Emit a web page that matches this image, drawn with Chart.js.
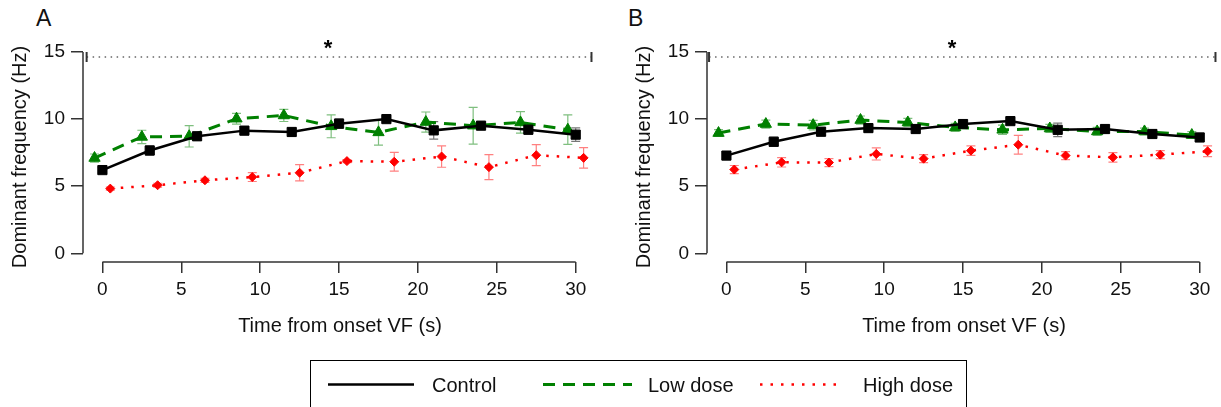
<!DOCTYPE html>
<html>
<head>
<meta charset="utf-8">
<script src="https://cdn.jsdelivr.net/npm/chart.js@4.4.1/dist/chart.umd.min.js"></script>
<style>
    body { margin: 0; background: #fff; width: 1221px; height: 407px; overflow: hidden; position: relative;
           font-family: "Liberation Sans", Arial, sans-serif; color: #111; }
    .panel { position: absolute; top: 0; width: 597px; height: 340px; }
    .letter { position: absolute; top: 7px; font-size: 23px; line-height: 23px; }
    #legendBox { position: absolute; left: 310px; top: 360px; width: 655px; height: 60px;
                 border: 1px solid #000; border-bottom: none; }
    .legendText { position: absolute; top: 375px; font-size: 20px; line-height: 20px; white-space: nowrap; }
    #legendLines { position: absolute; left: 0; top: 0; }
</style>
</head>
<body>
<div class="letter" style="left:36px">A</div>
<div class="letter" style="left:628px">B</div>
<canvas id="graficoA" class="panel" style="left:0" width="597" height="340"></canvas>
<canvas id="graficoB" class="panel" style="left:624px" width="597" height="340"></canvas>

<div id="legendBox"></div>
<svg id="legendLines" width="1221" height="407">
    <line x1="328" y1="384.5" x2="414" y2="384.5" stroke="#000" stroke-width="2.5"/>
    <line x1="543" y1="384.5" x2="632" y2="384.5" stroke="#008000" stroke-width="3" stroke-dasharray="12 8"/>
    <line x1="760" y1="384.5" x2="838" y2="384.5" stroke="#ff0000" stroke-width="2.5" stroke-dasharray="2.5 8"/>
</svg>
<span class="legendText" style="left:432px">Control</span>
<span class="legendText" style="left:648px">Low dose</span>
<span class="legendText" style="left:863px">High dose</span>

<script>
// --- DATA ---
const timesControl  = [0, 3, 6, 9, 12, 15, 18, 21, 24, 27, 30];
const timesLowDose  = [-0.5, 2.5, 5.5, 8.5, 11.5, 14.5, 17.5, 20.5, 23.5, 26.5, 29.5];
const timesHighDose = [0.5, 3.5, 6.5, 9.5, 12.5, 15.5, 18.5, 21.5, 24.5, 27.5, 30.5];

// Panel A
const controlA     = [6.2, 7.66, 8.72, 9.14, 9.04, 9.66, 10.0, 9.16, 9.51, 9.21, 8.84];
const controlErrA  = [0.2, 0.35, 0.3, 0.3, 0.3, 0.35, 0.2, 0.65, 0.25, 0.35, 0.5];
const lowDoseA     = [7.1, 8.67, 8.72, 10.03, 10.27, 9.46, 9.01, 9.78, 9.51, 9.75, 9.21];
const lowDoseErrA  = [0.3, 0.5, 0.8, 0.4, 0.45, 0.85, 0.95, 0.75, 1.37, 0.8, 1.1];
const highDoseA    = [4.82, 5.07, 5.44, 5.68, 6.0, 6.87, 6.82, 7.21, 6.42, 7.31, 7.11];
const highDoseErrA = [0.12, 0.15, 0.15, 0.33, 0.6, 0.12, 0.7, 0.8, 0.93, 0.78, 0.77];

// Panel B
const controlB     = [7.28, 8.31, 9.06, 9.33, 9.26, 9.63, 9.85, 9.2, 9.26, 8.89, 8.63];
const controlErrB  = [0.25, 0.35, 0.3, 0.3, 0.3, 0.3, 0.25, 0.5, 0.3, 0.3, 0.3];
const lowDoseB     = [8.96, 9.63, 9.55, 9.93, 9.75, 9.38, 9.2, 9.3, 9.08, 9.08, 8.81];
const lowDoseErrB  = [0.25, 0.3, 0.35, 0.3, 0.3, 0.3, 0.35, 0.3, 0.3, 0.25, 0.25];
const highDoseB    = [6.24, 6.78, 6.76, 7.4, 7.05, 7.65, 8.09, 7.28, 7.15, 7.35, 7.6];
const highDoseErrB = [0.3, 0.35, 0.3, 0.45, 0.3, 0.35, 0.7, 0.3, 0.35, 0.3, 0.4];

// Tick labels
const xTickValues = [0, 5, 10, 15, 20, 25, 30];
const yTickValues = [0, 5, 10, 15];

// Significance bracket (x start, x end, level) and star
const sigA = { start: -1.0, end: 31, level: 14.63, starX: 14.3, starY: 15.71 };
const sigB = { start: -1.1, end: 31, level: 14.63, starX: 14.3, starY: 15.71 };

const FONT = '"Liberation Sans", Arial, sans-serif';
const AXIS_COLOR = '#333';

function toPoints(xs, ys) {
    return xs.map((x, i) => ({ x: x, y: ys[i] }));
}

// Plugin: error bars, detached axis lines, significance bracket
const figurePlugin = {
    id: 'figurePlugin',
    beforeDatasetsDraw(chart) {
        const ctx = chart.ctx;
        const yScale = chart.scales.y;
        chart.data.datasets.forEach((ds, di) => {
            const meta = chart.getDatasetMeta(di);
            ctx.save();
            ctx.strokeStyle = ds.errorColor;
            ctx.lineWidth = 1.2;
            meta.data.forEach((pt, i) => {
                const v = ds.data[i].y;
                const e = ds.errors[i];
                const yTop = yScale.getPixelForValue(v + e);
                const yBot = yScale.getPixelForValue(v - e);
                ctx.beginPath();
                ctx.moveTo(pt.x, yTop); ctx.lineTo(pt.x, yBot);
                ctx.moveTo(pt.x - 4.5, yTop); ctx.lineTo(pt.x + 4.5, yTop);
                ctx.moveTo(pt.x - 4.5, yBot); ctx.lineTo(pt.x + 4.5, yBot);
                ctx.stroke();
            });
            ctx.restore();
        });
    },
    afterDraw(chart, args, opts) {
        const ctx = chart.ctx;
        const xs = chart.scales.x, ys = chart.scales.y;
        const area = chart.chartArea;
        ctx.save();
        // axis lines only over the tick range
        ctx.strokeStyle = AXIS_COLOR;
        ctx.lineWidth = 1.5;
        ctx.beginPath();
        ctx.moveTo(area.left, ys.getPixelForValue(yTickValues[0]));
        ctx.lineTo(area.left, ys.getPixelForValue(yTickValues[yTickValues.length - 1]));
        ctx.moveTo(xs.getPixelForValue(xTickValues[0]), area.bottom);
        ctx.lineTo(xs.getPixelForValue(xTickValues[xTickValues.length - 1]), area.bottom);
        ctx.stroke();

        // significance bracket
        const sig = opts.sig;
        const x1 = xs.getPixelForValue(sig.start);
        const x2 = xs.getPixelForValue(sig.end);
        const yl = ys.getPixelForValue(sig.level);
        ctx.strokeStyle = '#666';
        ctx.lineWidth = 1.5;
        ctx.setLineDash([1.5, 4.5]);
        ctx.beginPath();
        ctx.moveTo(x1, yl); ctx.lineTo(x2, yl);
        ctx.stroke();
        ctx.setLineDash([]);
        ctx.strokeStyle = '#333';
        ctx.lineWidth = 2;
        ctx.beginPath();
        ctx.moveTo(x1, yl - 5); ctx.lineTo(x1, yl + 5);
        ctx.moveTo(x2, yl - 5); ctx.lineTo(x2, yl + 5);
        ctx.stroke();

        ctx.fillStyle = '#000';
        ctx.font = 'bold 22px ' + FONT;
        ctx.textAlign = 'center';
        ctx.textBaseline = 'alphabetic';
        ctx.fillText('*', xs.getPixelForValue(sig.starX), ys.getPixelForValue(sig.starY) + 12.5);
        ctx.restore();
    }
};

function makePanel(canvasId, control, controlErr, low, lowErr, high, highErr, sig) {
    return new Chart(document.getElementById(canvasId).getContext('2d'), {
        type: 'line',
        data: {
            datasets: [
                {
                    label: 'Control',
                    data: toPoints(timesControl, control),
                    errors: controlErr,
                    errorColor: '#777',
                    borderColor: '#000',
                    backgroundColor: '#000',
                    borderWidth: 2.5,
                    pointStyle: 'rect',
                    pointRadius: 6.5,
                    pointBorderWidth: 1,
                    tension: 0,
                    clip: false
                },
                {
                    label: 'Low dose',
                    data: toPoints(timesLowDose, low),
                    errors: lowErr,
                    errorColor: '#7fbf7f',
                    borderColor: '#008000',
                    backgroundColor: '#008000',
                    borderWidth: 3,
                    borderDash: [12, 8],
                    pointStyle: 'triangle',
                    pointRadius: 6.5,
                    pointBorderWidth: 1,
                    tension: 0,
                    clip: false
                },
                {
                    label: 'High dose',
                    data: toPoints(timesHighDose, high),
                    errors: highErr,
                    errorColor: '#ff8080',
                    borderColor: '#ff0000',
                    backgroundColor: '#ff0000',
                    borderWidth: 2.5,
                    borderDash: [2.5, 8],
                    pointStyle: 'rectRot',
                    pointRadius: 4.5,
                    pointBorderWidth: 1,
                    tension: 0,
                    clip: false
                }
            ]
        },
        options: {
            responsive: false,
            animation: false,
            events: [],
            layout: { autoPadding: false, padding: { left: 0, right: 0, top: 52, bottom: 0 } },
            plugins: {
                legend: { display: false },
                tooltip: { enabled: false },
                figurePlugin: { sig: sig }
            },
            scales: {
                x: {
                    type: 'linear',
                    min: -1.23,
                    max: 31.35,
                    afterBuildTicks: (scale) => { scale.ticks = xTickValues.map(v => ({ value: v })); },
                    afterFit: (scale) => { scale.height = 78; scale.paddingLeft = 0; scale.paddingRight = 0; },
                    border: { display: false },
                    grid: { drawOnChartArea: false, drawTicks: true, tickLength: 11, color: AXIS_COLOR, lineWidth: 1.5 },
                    ticks: { color: '#111', padding: 5, maxRotation: 0, font: { family: FONT, size: 19 } },
                    title: { display: true, text: 'Time from onset VF (s)', color: '#111',
                             padding: { top: 0, bottom: 2 }, font: { family: FONT, size: 20 } }
                },
                y: {
                    min: -0.65,
                    max: 15,
                    afterBuildTicks: (scale) => { scale.ticks = yTickValues.map(v => ({ value: v })); },
                    afterFit: (scale) => { scale.width = 83; scale.paddingTop = 0; scale.paddingBottom = 0; },
                    border: { display: false },
                    grid: { drawOnChartArea: false, drawTicks: true, tickLength: 12, color: AXIS_COLOR, lineWidth: 1.5 },
                    ticks: { color: '#111', padding: 6, font: { family: FONT, size: 19 } },
                    title: { display: true, text: 'Dominant frequency (Hz)', color: '#111',
                             padding: { top: 8, bottom: 0 }, font: { family: FONT, size: 20 } }
                }
            }
        },
        plugins: [figurePlugin]
    });
}

document.addEventListener('DOMContentLoaded', function() {
    makePanel('graficoA', controlA, controlErrA, lowDoseA, lowDoseErrA, highDoseA, highDoseErrA, sigA);
    makePanel('graficoB', controlB, controlErrB, lowDoseB, lowDoseErrB, highDoseB, highDoseErrB, sigB);
});
</script>
</body>
</html>
